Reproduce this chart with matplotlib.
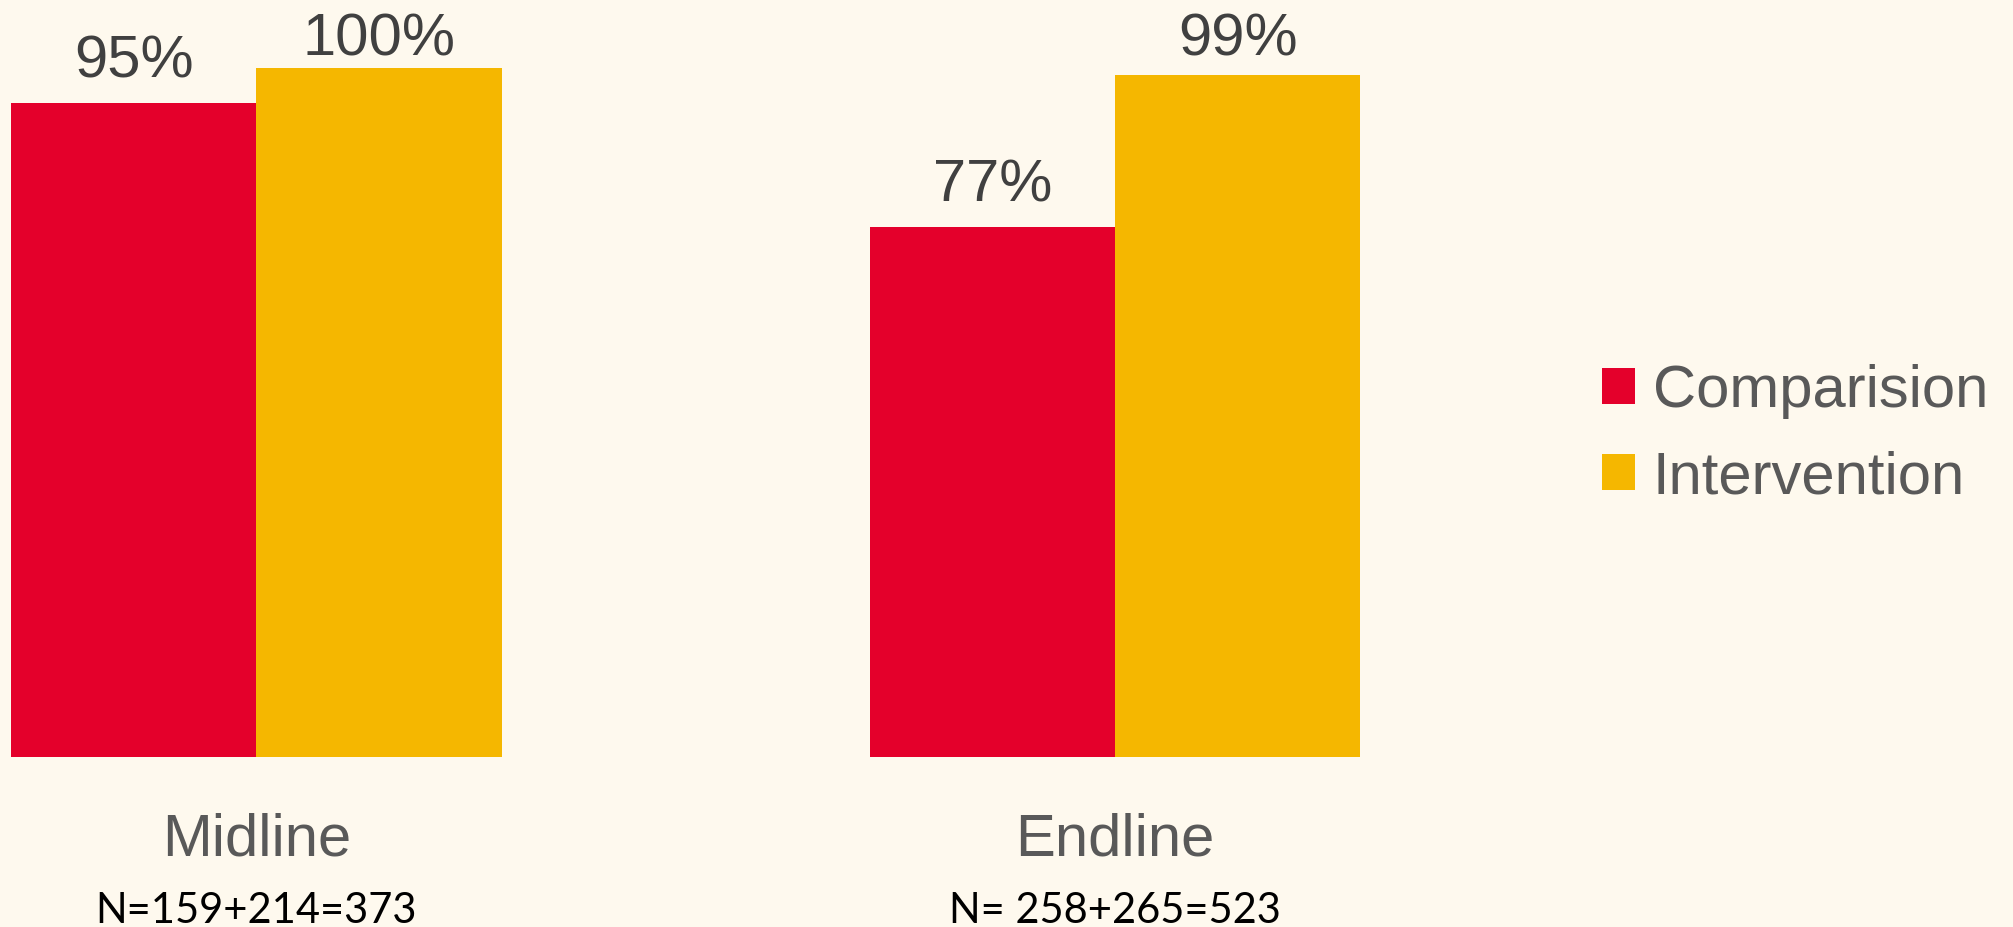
import matplotlib
matplotlib.use("Agg")
import matplotlib.pyplot as plt
import numpy as np

# data
groups = ["Midline", "Endline"]
sample_notes = ["N=159+214=373", "N= 258+265=523"]
series = ["Comparision", "Intervention"]
comparison = [95, 77]
intervention = [100, 99]

bg = "#FEF9EE"
colors = ["#E4002B", "#F5B700"]
main_font = "Liberation Sans"
note_font = "Lato"

fig = plt.figure(figsize=(20.13, 9.27), dpi=100, facecolor=bg)
ax = fig.add_axes([0, 0.1831, 1400 / 2013, 0.8169])
ax.set_facecolor(bg)

x = np.arange(len(groups))
w = 0.2857
b1 = ax.bar(x - w / 2, comparison, w, color=colors[0], label=series[0])
b2 = ax.bar(x + w / 2, intervention, w, color=colors[1], label=series[1])

ax.set_xlim(-256.3 / 858.7, (1400 - 256.3) / 858.7)
ax.set_ylim(0, 109.9)
ax.axis("off")

# value labels, kept inside the plot area like the original
for bars, vals in [(b1, comparison), (b2, intervention)]:
    for bar, v in zip(bars, vals):
        ypos = min(v + 3.65, 101.8)
        ax.text(bar.get_x() + bar.get_width() / 2, ypos, f"{v}%",
                ha="center", va="baseline", fontsize=43, color="#404040",
                family=main_font)

# category labels and sample sizes
trans = ax.get_xaxis_transform()
for xi, g, n in zip(x, groups, sample_notes):
    ax.text(xi, -0.1303, g, transform=trans, ha="center", va="baseline",
            fontsize=43, color="#595959", family=main_font)
    ax.text(xi, -0.219, n, transform=trans, ha="center", va="baseline",
            fontsize=30, color="black", family=note_font)

leg = fig.legend(handles=[b1, b2], loc="upper left",
                 bbox_to_anchor=(1548 / 2013, 1 - 310 / 927),
                 frameon=False, handlelength=0.55,
                 handleheight=0.55, handletextpad=0.3, labelspacing=0.53,
                 prop={"family": main_font, "size": 43})
for t in leg.get_texts():
    t.set_color("#595959")

plt.savefig("out.png", dpi=100, facecolor=bg)
